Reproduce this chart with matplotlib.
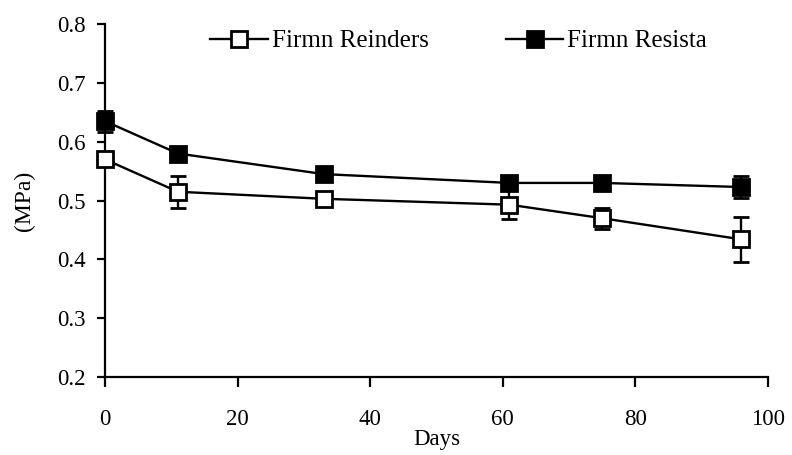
import matplotlib.pyplot as plt
import numpy as np

plt.rcParams['font.family'] = ['Liberation Serif', 'DejaVu Serif']

# Dados
dias = [0, 11, 33, 61, 75, 96]
reinders = [0.570, 0.515, 0.503, 0.493, 0.470, 0.434]
reinders_err = [0.010, 0.027, 0.008, 0.025, 0.018, 0.038]
resista = [0.635, 0.580, 0.545, 0.530, 0.530, 0.523]
resista_err = [0.018, 0.010, 0.005, 0.005, 0.010, 0.018]

fig = plt.figure(figsize=(7.92, 4.55), dpi=100)
ax = fig.add_axes([0.1326, 0.1714, 0.837, 0.7756])

eb1 = ax.errorbar(dias, reinders, yerr=reinders_err, color='black', lw=1.7,
                  marker='s', ms=12, mfc='white', mec='black', mew=2.0,
                  capsize=6, elinewidth=1.7, capthick=1.7, zorder=3)
eb2 = ax.errorbar(dias, resista, yerr=resista_err, color='black', lw=1.7,
                  marker='s', ms=12, mfc='black', mec='black', mew=2.0,
                  capsize=6, elinewidth=1.7, capthick=1.7, zorder=3)
# não cortar os marcadores em x=0
for eb in (eb1, eb2):
    for art in eb.get_children():
        art.set_clip_on(False)

ax.set_xlim(0, 100)
ax.set_ylim(0.2, 0.8)
ax.set_xticks(np.arange(0, 101, 20))
ax.set_yticks(np.arange(0.2, 0.81, 0.1))
ax.set_yticklabels(['0.2', '0.3', '0.4', '0.5', '0.6', '0.7', '0.8'])

for s in ['top', 'right']:
    ax.spines[s].set_visible(False)
for s in ['left', 'bottom']:
    ax.spines[s].set_linewidth(1.6)
ax.tick_params(axis='x', direction='out', length=7, width=1.6, pad=16, labelsize=16.5)
ax.tick_params(axis='y', direction='out', length=6, width=1.6, pad=8, labelsize=16.5)

ax.set_xlabel('Days', fontsize=16.5, labelpad=-0.5)
ax.set_ylabel('(MPa)', fontsize=17, labelpad=16)

fig.legend([eb1[0], eb2[0]], ['Firmn Reinders', 'Firmn Resista'],
           loc='center left', bbox_to_anchor=(210 / 792, 1 - 41 / 455),
           bbox_transform=fig.transFigure, ncol=2, frameon=False, fontsize=18,
           handlelength=2.3, handletextpad=0.16, columnspacing=3.1,
           borderpad=0, borderaxespad=0, numpoints=1, markerscale=0.95)

plt.savefig('out.png', dpi=100)
